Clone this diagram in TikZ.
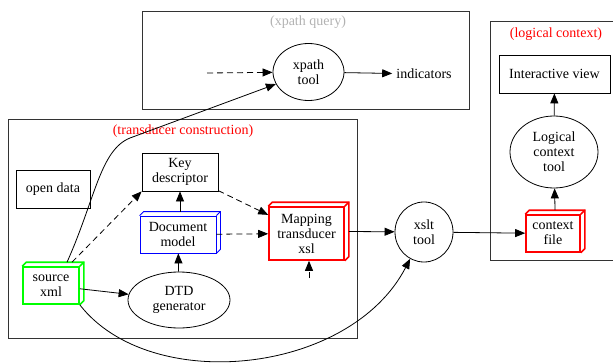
\documentclass[tikz,border=0pt]{standalone}
\usepackage{fontspec}
\setmainfont{Liberation Serif}
\usetikzlibrary{shapes,arrows.meta,positioning,calc}

\tikzset{
  every node/.style={font=\fontsize{14}{15}\selectfont, align=center, inner sep=0pt},
  boxnode/.style={draw, rectangle, line width=0.8pt},
  ellnode/.style={draw, ellipse, line width=0.8pt},
  cluster/.style={draw, line width=0.8pt, black!80},
  edge/.style={-{Triangle[length=10pt,width=8pt]}, line width=0.8pt},
  dashedge/.style={edge, dash pattern=on 6pt off 4pt},
}
% side faces of a 3d box
\newcommand{\boxfaces}[2]{
  \draw[#2] (#1.north west) -- ++(4,-4) -- ($(#1.north east)+(4,-4)$) -- ($(#1.south east)+(4,-4)$) -- (#1.south east);
  \draw[#2] (#1.north east) -- ++(4,-4);
}

\begin{document}
\begin{tikzpicture}[x=1pt,y=-1pt]
  \useasboundingbox (0,0) rectangle (613,364);
  \clip (0,0) rectangle (613,364);

  % clusters
  \draw[cluster] (142,11) rectangle (469,109);
  \node[text=black!30] (querytitle) at (308,22) {(xpath query)};
  \draw[cluster] (8,119) rectangle (357,338);
  \node[text=red] (constrtitle) at (183,131) {(transducer construction)};
  \draw[cluster] (490,21) rectangle (620,260);
  \node[text=red] (contexttitle) at (556,34) {(logical context)};

  % xpath query
  \node[ellnode, minimum width=71, minimum height=57] (xpath) at (308.5,72) {xpath\\tool};
  \node[inner sep=4pt] (ind) at (424,74) {indicators};
  \coordinate (xpin) at (207,73);

  % transducer construction
  \node[boxnode, minimum width=76, minimum height=38] (key) at (180,172) {Key\\descriptor};
  \node[boxnode, minimum width=74, minimum height=38] (open) at (53,189) {open data};
  \node[boxnode, draw=blue, minimum width=76, minimum height=37] (doc) at (178,234.5) {Document\\model};
  \boxfaces{doc}{blue, line width=0.8pt}
  \node[boxnode, draw=red, line width=1.6pt, minimum width=75, minimum height=53] (map) at (306.5,233.5) {Mapping\\transducer\\xsl};
  \boxfaces{map}{red, line width=1.6pt}
  \node[ellnode, minimum width=102, minimum height=56] (dtd) at (179,300) {DTD\\generator};
  \node[boxnode, draw=green, line width=1.6pt, minimum width=56, minimum height=37] (src) at (51,285.5) {source\\xml};
  \boxfaces{src}{green, line width=1.6pt}
  \coordinate (mapin) at (309,278);

  \node[ellnode, minimum width=58, minimum height=60] (xslt) at (424,232) {xslt\\tool};

  % logical context
  \node[boxnode, draw=red, line width=1.6pt, minimum width=54, minimum height=37] (ctx) at (553,233.5) {context\\file};
  \boxfaces{ctx}{red, line width=1.6pt}
  \node[ellnode, minimum width=88, minimum height=72] (logic) at (554,152) {Logical\\context\\tool};
  \node[boxnode, minimum width=111, minimum height=38] (view) at (554.5,74) {Interactive view};

  % connectors
  \draw[dashedge] (xpin) -- (xpath);
  \draw[edge] (xpath) -- (ind);
  \draw[edge] ($(src.north)+(16,-4)$) .. controls (95,200) and (100,150) .. (130,138) -- (xpath);
  \draw[dashedge] ($(src.north)+(21,-4)$) -- (key.south west);
  \draw[edge] (src) -- (dtd);
  \draw[edge] (src.south east) .. controls (150,395) and (350,375) .. (xslt);
  \draw[edge] (dtd) -- (doc);
  \draw[edge] ($(doc.north)+(2,-4)$) -- (key);
  \draw[dashedge] (key) -- (map);
  \draw[dashedge] (doc) -- (map);
  \draw[dashedge] (mapin) -- (mapin |- map.south);
  \draw[edge] ($(map.east)+(4,-2)$) -- (xslt);
  \draw[edge] (xslt) -- (ctx);
  \draw[edge] ($(ctx.north)+(2,-4)$) -- (logic);
  \draw[edge] (logic) -- (view);
\end{tikzpicture}
\end{document}
